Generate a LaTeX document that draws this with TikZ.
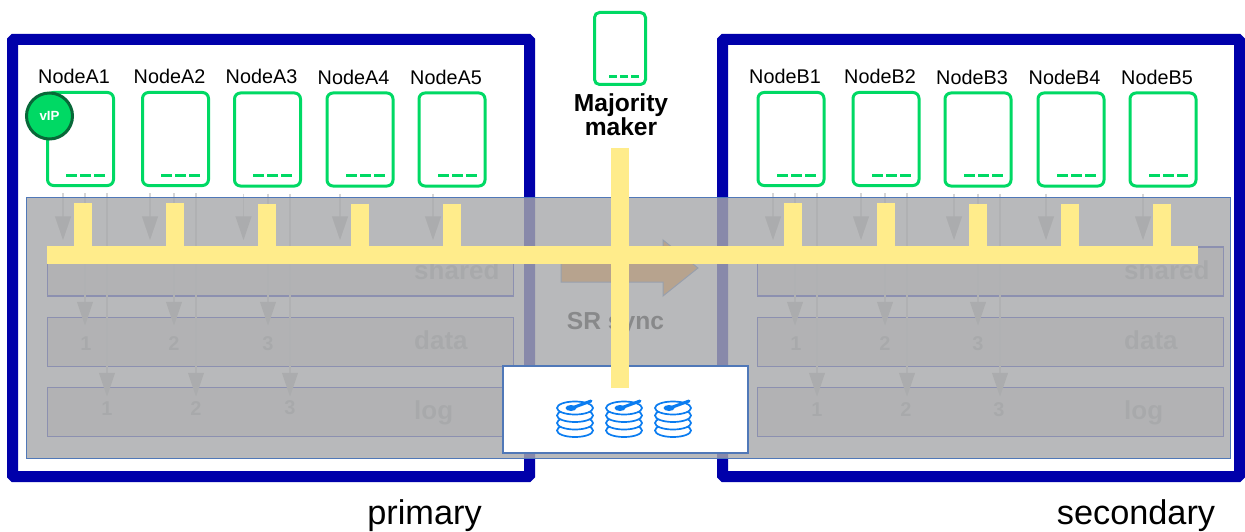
\documentclass[tikz,border=0pt]{standalone}
\usepackage{fontspec}
\setmainfont{Liberation Sans}
\usetikzlibrary{arrows.meta}

\definecolor{framecol}{RGB}{0,0,170}
\definecolor{servercol}{RGB}{0,217,100}
\definecolor{vipcol}{RGB}{8,104,56}
\definecolor{panelcol}{RGB}{168,169,171}
\definecolor{edgecol}{RGB}{80,120,184}
\definecolor{rowcol}{RGB}{20,40,200}
\definecolor{buscol}{RGB}{255,236,139}
\definecolor{diskcol}{RGB}{10,124,240}
\definecolor{syncol}{RGB}{250,142,21}

\tikzset{
  siteframe/.style  = {draw=framecol, line width=11pt, rounded corners=1.5pt, minimum width=517pt, minimum height=437pt},
  server/.style     = {draw=servercol, line width=3pt, rounded corners=6pt, minimum width=66pt, minimum height=93pt},
  smallserver/.style= {draw=servercol, line width=3pt, rounded corners=5pt, minimum width=51pt, minimum height=72pt},
  ledline/.style    = {draw=servercol, line width=3pt, dash pattern=on 11pt off 3pt},
  smallled/.style   = {draw=servercol, line width=3pt, dash pattern=on 8pt off 3pt},
  nodelabel/.style  = {font=\fontsize{19.8}{23}\selectfont, inner sep=0pt},
  sitelabel/.style  = {font=\fontsize{34.3}{40}\selectfont, inner sep=0pt, anchor=base},
  diskrow/.style    = {draw=rowcol, line width=1.5pt, fill=black!13, minimum width=466pt, inner sep=0pt},
  rowlabel/.style   = {font=\bfseries\fontsize{26}{30}\selectfont, text=black!32, inner sep=0pt, anchor=base west},
  digit/.style      = {font=\bfseries\fontsize{20}{24}\selectfont, text=black!32, inner sep=0pt},
  flow/.style       = {draw=black!16, line width=1.3pt, shorten <=6pt,
                       -{Triangle[width=16pt,length=24pt,color=black!26]}},
  flowshared/.style = {flow, shorten >=6pt},
  flowdata/.style   = {flow, shorten >=-9pt},
  flowlog/.style    = {flow, shorten >=-10pt},
  busline/.style    = {draw=buscol, line width=18pt, shorten <=16pt},
  disk/.style       = {draw=diskcol, line width=1.7pt, fill=white}
}

\newcommand{\ledmark}[1]{\draw[ledline] ([shift={(-10,-12)}]#1.south east) -- ++(-39,0);}
\newcommand{\diskstack}[1]{
  \begin{scope}[shift={(#1,408)}]
    \draw[disk] (0,22.5) ellipse[x radius=18,y radius=6.5];
    \draw[disk] (0,15) ellipse[x radius=18,y radius=6.5];
    \draw[disk] (0,7.5) ellipse[x radius=18,y radius=6.5];
    \draw[disk] (0,0) ellipse[x radius=18,y radius=6.5];
    \draw[diskcol, line width=3pt, line cap=round] (-3,0) -- (16,-7);
    \fill[diskcol] (-4,0) ellipse[x radius=5.5,y radius=3];
  \end{scope}
}

\begin{document}
\begin{tikzpicture}[x=1pt, y=-1pt]
\useasboundingbox (0,0) rectangle (1245,532);

% sites
\node[siteframe] (framea) at (271,258) {};
\node[siteframe] (frameb) at (981,258) {};
\node[sitelabel] (primary) at (424.5,524) {primary};
\node[sitelabel] (secondary) at (1136,524) {secondary};

% servers
\node[server] (NodeA1) at (80.5,139) {};
\node[server] (NodeA2) at (175.5,139) {};
\node[server] (NodeA3) at (267.5,139.5) {};
\node[server] (NodeA4) at (360,139.5) {};
\node[server] (NodeA5) at (452,139.5) {};
\node[server] (NodeB1) at (791,139) {};
\node[server] (NodeB2) at (886,139) {};
\node[server] (NodeB3) at (978,139.5) {};
\node[server] (NodeB4) at (1071,139.5) {};
\node[server] (NodeB5) at (1163,139.5) {};
\node[smallserver] (maker) at (620,48.5) {};

\ledmark{NodeA1}
\ledmark{NodeA2}
\ledmark{NodeA3}
\ledmark{NodeA4}
\ledmark{NodeA5}
\ledmark{NodeB1}
\ledmark{NodeB2}
\ledmark{NodeB3}
\ledmark{NodeB4}
\ledmark{NodeB5}
\draw[smallled] ([shift={(-8,-9)}]maker.south east) -- ++(-30,0);

\node[nodelabel] (labelA1) at (74,76.5) {NodeA1};
\node[nodelabel] (labelA2) at (169.5,76.5) {NodeA2};
\node[nodelabel] (labelA3) at (261.5,76.5) {NodeA3};
\node[nodelabel] (labelA4) at (353.5,77.5) {NodeA4};
\node[nodelabel] (labelA5) at (446,77.5) {NodeA5};
\node[nodelabel] (labelB1) at (785,76.5) {NodeB1};
\node[nodelabel] (labelB2) at (880,76.5) {NodeB2};
\node[nodelabel] (labelB3) at (972,77.5) {NodeB3};
\node[nodelabel] (labelB4) at (1064.5,77.5) {NodeB4};
\node[nodelabel] (labelB5) at (1157,77.5) {NodeB5};
\node[align=center, inner sep=0pt, font=\bfseries\fontsize{24.6}{24}\selectfont] (makerlabel) at (621,115) {Majority\\maker};

% vip
\node[circle, draw=vipcol, line width=3pt, fill=servercol, minimum size=46pt, inner sep=0pt, text=white, font=\bfseries\fontsize{13.3}{16}\selectfont] (vip) at (49.5,116) {vIP};

% disk rows
\node[diskrow, minimum height=49pt] (shareda) at (280.5,271.5) {};
\node[diskrow, minimum height=49pt] (dataa) at (280.5,342) {};
\node[diskrow, minimum height=49pt] (loga) at (280.5,412) {};
\node[diskrow, minimum height=49pt] (sharedb) at (990.5,271.5) {};
\node[diskrow, minimum height=49pt] (datab) at (990.5,342) {};
\node[diskrow, minimum height=49pt] (logb) at (990.5,412) {};

\node[rowlabel] (sharedtexta) at (414,279) {shared};
\node[rowlabel] (datatexta) at (414,349) {data};
\node[rowlabel] (logtexta) at (414,419) {log};
\node[rowlabel] (sharedtextb) at (1124,279) {shared};
\node[rowlabel] (datatextb) at (1124,349) {data};
\node[rowlabel] (logtextb) at (1124,419) {log};

\node[digit] (da1) at (86,344) {1};
\node[digit] (da2) at (174,344) {2};
\node[digit] (da3) at (268,344) {3};
\node[digit] (la1) at (107,409) {1};
\node[digit] (la2) at (196,409) {2};
\node[digit] (la3) at (290,408) {3};
\node[digit] (db1) at (796,344) {1};
\node[digit] (db2) at (885,344) {2};
\node[digit] (db3) at (978,344) {3};
\node[digit] (lb1) at (817,410) {1};
\node[digit] (lb2) at (906,410) {2};
\node[digit] (lb3) at (999,410) {3};

% flows
\draw[flowshared] ([xshift=-17.5]NodeA1.south) -- ([xshift=-17.5]NodeA1.south |- shareda.north);
\draw[flowdata] ([xshift=4.5]NodeA1.south) -- ([xshift=4.5]NodeA1.south |- dataa.north);
\draw[flowlog] ([xshift=26.5]NodeA1.south) -- ([xshift=26.5]NodeA1.south |- loga.north);
\draw[flowshared] ([xshift=-25.5]NodeA2.south) -- ([xshift=-25.5]NodeA2.south |- shareda.north);
\draw[flowdata] ([xshift=-1.5]NodeA2.south) -- ([xshift=-1.5]NodeA2.south |- dataa.north);
\draw[flowlog] ([xshift=20.5]NodeA2.south) -- ([xshift=20.5]NodeA2.south |- loga.north);
\draw[flowshared] ([xshift=-24]NodeA3.south) -- ([xshift=-24]NodeA3.south |- shareda.north);
\draw[flowdata] ([xshift=0.5]NodeA3.south) -- ([xshift=0.5]NodeA3.south |- dataa.north);
\draw[flowlog] ([xshift=22.5]NodeA3.south) -- ([xshift=22.5]NodeA3.south |- loga.north);
\draw[flowshared] ([xshift=-20]NodeA4.south) -- ([xshift=-20]NodeA4.south |- shareda.north);
\draw[flowshared] ([xshift=-19]NodeA5.south) -- ([xshift=-19]NodeA5.south |- shareda.north);

\draw[flowshared] ([xshift=-18]NodeB1.south) -- ([xshift=-18]NodeB1.south |- sharedb.north);
\draw[flowdata] ([xshift=4]NodeB1.south) -- ([xshift=4]NodeB1.south |- datab.north);
\draw[flowlog] ([xshift=26]NodeB1.south) -- ([xshift=26]NodeB1.south |- logb.north);
\draw[flowshared] ([xshift=-25]NodeB2.south) -- ([xshift=-25]NodeB2.south |- sharedb.north);
\draw[flowdata] ([xshift=-1]NodeB2.south) -- ([xshift=-1]NodeB2.south |- datab.north);
\draw[flowlog] ([xshift=21]NodeB2.south) -- ([xshift=21]NodeB2.south |- logb.north);
\draw[flowshared] ([xshift=-24]NodeB3.south) -- ([xshift=-24]NodeB3.south |- sharedb.north);
\draw[flowdata] ([xshift=0]NodeB3.south) -- ([xshift=0]NodeB3.south |- datab.north);
\draw[flowlog] ([xshift=22]NodeB3.south) -- ([xshift=22]NodeB3.south |- logb.north);
\draw[flowshared] ([xshift=-25]NodeB4.south) -- ([xshift=-25]NodeB4.south |- sharedb.north);
\draw[flowshared] ([xshift=-20]NodeB5.south) -- ([xshift=-20]NodeB5.south |- sharedb.north);

% SR sync
\draw[draw=edgecol, line width=1pt, fill=syncol] (561,254) -- (663,254) -- (663,240) -- (698,268) -- (663,296) -- (663,282) -- (561,282) -- cycle;
\node[inner sep=0pt, font=\bfseries\fontsize{24.6}{28}\selectfont] (srsync) at (615.5,323.5) {SR sync};

% grey layer
\node[draw=edgecol, line width=1.5pt, fill=panelcol, fill opacity=0.81, minimum width=1204pt, minimum height=261pt] (panel) at (628.5,328) {};

% storage
\node[draw=edgecol, line width=1.5pt, fill=white, minimum width=245pt, minimum height=87pt] (nas) at (625.5,409.5) {};
\diskstack{575}
\diskstack{624}
\diskstack{673}

% bus
\node[fill=buscol, inner sep=0pt, outer sep=0pt, minimum width=1151pt, minimum height=18pt] (bus) at (622.5,255) {};
\draw[busline] (NodeA1.south -| 83,0) -- (83,0 |- bus.north);
\draw[busline] (NodeA2.south -| 175,0) -- (175,0 |- bus.north);
\draw[busline] (NodeA3.south -| 267,0) -- (267,0 |- bus.north);
\draw[busline] (NodeA4.south -| 360,0) -- (360,0 |- bus.north);
\draw[busline] (NodeA5.south -| 452,0) -- (452,0 |- bus.north);
\draw[busline] (NodeB1.south -| 793,0) -- (793,0 |- bus.north);
\draw[busline] (NodeB2.south -| 886,0) -- (886,0 |- bus.north);
\draw[busline] (NodeB3.south -| 978,0) -- (978,0 |- bus.north);
\draw[busline] (NodeB4.south -| 1070,0) -- (1070,0 |- bus.north);
\draw[busline] (NodeB5.south -| 1162,0) -- (1162,0 |- bus.north);
\coordinate (bustop) at (620,148);
\coordinate (busend) at (620,388);
\draw[draw=buscol, line width=18pt] (bustop) -- (busend);

\end{tikzpicture}
\end{document}
